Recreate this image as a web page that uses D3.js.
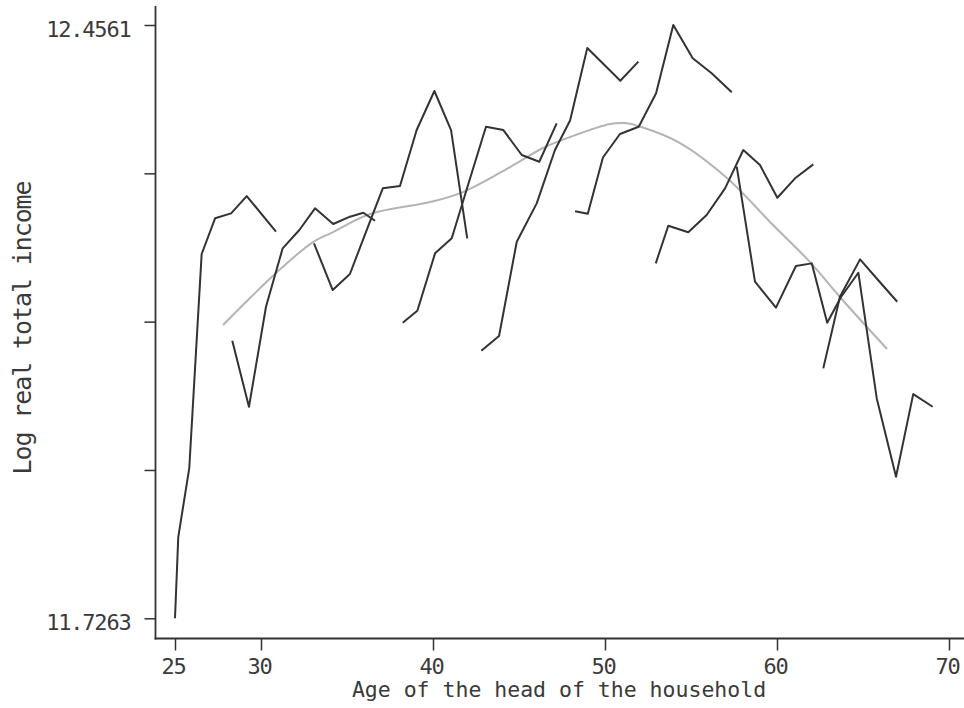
<!doctype html>
<html lang="en">
<head>
<meta charset="utf-8">
<script src="https://cdn.jsdelivr.net/npm/d3@7"></script>
<title>Log real total income by age</title>
<style>
 body { margin: 0; background: #fff; }
 text { font-family: "DejaVu Sans Mono", monospace; fill: #3a3a3a; }
 .tick text { font-size: 22px; letter-spacing: -1.2px; }
 .tick line { stroke: #333; stroke-width: 1.5; }
 .axisline { stroke: #333; stroke-width: 1.8; }
 .cohort { fill: none; stroke: #333; stroke-width: 2; stroke-linejoin: round; }
 .smooth { fill: none; stroke: #b4b4b4; stroke-width: 2; }
</style>
</head>
<body>
<svg id="chart" width="964" height="708"></svg>
<script>
    // one array per cohort: mean age of head, mean log real total income
    var cohortAge = [
      [25.00, 25.19, 25.83, 26.55, 27.33, 28.26, 29.17, 30.87],
      [28.33, 29.30, 30.29, 31.26, 32.23, 33.14, 34.20, 35.17, 35.95, 36.63],
      [33.08, 34.17, 35.17, 36.10, 37.08, 38.08, 39.05, 40.08, 41.05, 41.99],
      [38.24, 39.09, 40.12, 41.09, 42.09, 43.08, 44.09, 45.16, 46.18, 47.19],
      [42.81, 43.84, 44.87, 46.03, 47.09, 47.97, 48.97, 49.94, 50.89, 51.94],
      [48.26, 49.00, 49.88, 50.87, 51.96, 52.97, 53.97, 55.10, 56.20, 57.37],
      [52.95, 53.68, 54.84, 55.91, 56.98, 58.04, 59.01, 60.02, 61.05, 62.11],
      [57.66, 58.72, 59.94, 61.10, 62.02, 62.92, 63.72, 64.73, 65.80, 66.92, 67.92, 69.05],
      [62.69, 63.66, 64.83, 65.90, 66.99]
    ];
    var cohortLogInc = [
      [11.7263, 11.8262, 11.9111, 12.1744, 12.2183, 12.2244, 12.2457, 12.2018],
      [12.0677, 11.9865, 12.1095, 12.1814, 12.2039, 12.2306, 12.2113, 12.2203, 12.2252, 12.2153],
      [12.1875, 12.1301, 12.1498, 12.2014, 12.2552, 12.2580, 12.3269, 12.3749, 12.3269, 12.1937],
      [12.0898, 12.1046, 12.1752, 12.1937, 12.2629, 12.3310, 12.3269, 12.2962, 12.2879, 12.3352],
      [12.0554, 12.0735, 12.1895, 12.2367, 12.3023, 12.3386, 12.4278, 12.4075, 12.3876, 12.4110],
      [12.2270, 12.2239, 12.2931, 12.3220, 12.3310, 12.3721, 12.4561, 12.4151, 12.3967, 12.3733],
      [12.1629, 12.2092, 12.2011, 12.2224, 12.2552, 12.3023, 12.2839, 12.2436, 12.2675, 12.2847],
      [12.2818, 12.1405, 12.1084, 12.1596, 12.1629, 12.0898, 12.1215, 12.1514, 11.9968, 11.9004, 12.0021, 11.9865],
      [12.0337, 12.1218, 12.1678, 12.1418, 12.1157]
    ];

    // smoothed age profile (grey)
    var smoothAge    = [27.79, 29.36, 30.81, 33.02, 34.19, 36.34, 39.83, 41.74, 44.48, 46.40,
                        47.97, 50.29, 51.16, 52.03, 54.36, 57.09, 59.77, 61.92, 63.66, 66.40];
    var smoothLogInc = [12.0870, 12.1202, 12.1498, 12.1891, 12.2014, 12.2236, 12.2383, 12.2506, 12.2814, 12.3048,
                        12.3183, 12.3343, 12.3355, 12.3312, 12.3109, 12.2679, 12.2100, 12.1645, 12.1215, 12.0575];

    var xTicks = [25, 30, 40, 50, 60, 70];
    var yTicks = [11.7263, 11.90875, 12.0912, 12.27365, 12.4561];

    var svg = d3.select("#chart");

    var x = d3.scaleLinear().domain([25, 70]).range([175, 949]);
    var y = d3.scaleLinear().domain([11.7263, 12.4561]).range([618.3, 25]);

    // axes
    var yAxis = svg.append("g")
        .attr("transform", "translate(155.5,0)")
        .call(d3.axisLeft(y)
            .tickValues(yTicks)
            .tickSize(11)
            .tickPadding(14)
            .tickFormat(function (d, i) {
                return (i == 0 || i == yTicks.length - 1) ? d3.format(".4f")(d) : "";
            }));
    yAxis.select(".domain").remove();
    yAxis.selectAll(".tick text").attr("dy", 11.5);

    var xAxis = svg.append("g")
        .attr("transform", "translate(0,638.5)")
        .call(d3.axisBottom(x).tickValues(xTicks).tickSize(12));
    xAxis.select(".domain").remove();
    xAxis.selectAll(".tick text").attr("y", 35).attr("dy", 0).attr("dx", -2);

    svg.append("line").attr("class", "axisline")
        .attr("x1", 155.5).attr("x2", 155.5).attr("y1", 6).attr("y2", 639.4);
    svg.append("line").attr("class", "axisline")
        .attr("x1", 154.6).attr("x2", 964).attr("y1", 638.5).attr("y2", 638.5);

    // titles
    svg.append("text")
        .attr("x", 559).attr("y", 697)
        .attr("text-anchor", "middle")
        .style("font-size", "21.5px")
        .text("Age of the head of the household");

    svg.append("text")
        .attr("transform", "translate(31,328) rotate(-90)")
        .attr("text-anchor", "middle")
        .style("font-size", "25px")
        .style("letter-spacing", "-1.1px")
        .text("Log real total income");

    // lines
    var line = d3.line()
        .x(function (d) { return x(d[0]); })
        .y(function (d) { return y(d[1]); });

    svg.append("path")
        .attr("class", "smooth")
        .attr("d", line.curve(d3.curveCatmullRom)(d3.zip(smoothAge, smoothLogInc)));

    line.curve(d3.curveLinear);
    svg.selectAll(".cohort")
        .data(d3.range(cohortAge.length))
        .enter().append("path")
        .attr("class", "cohort")
        .attr("d", function (i) { return line(d3.zip(cohortAge[i], cohortLogInc[i])); });
</script>
</body>
</html>
